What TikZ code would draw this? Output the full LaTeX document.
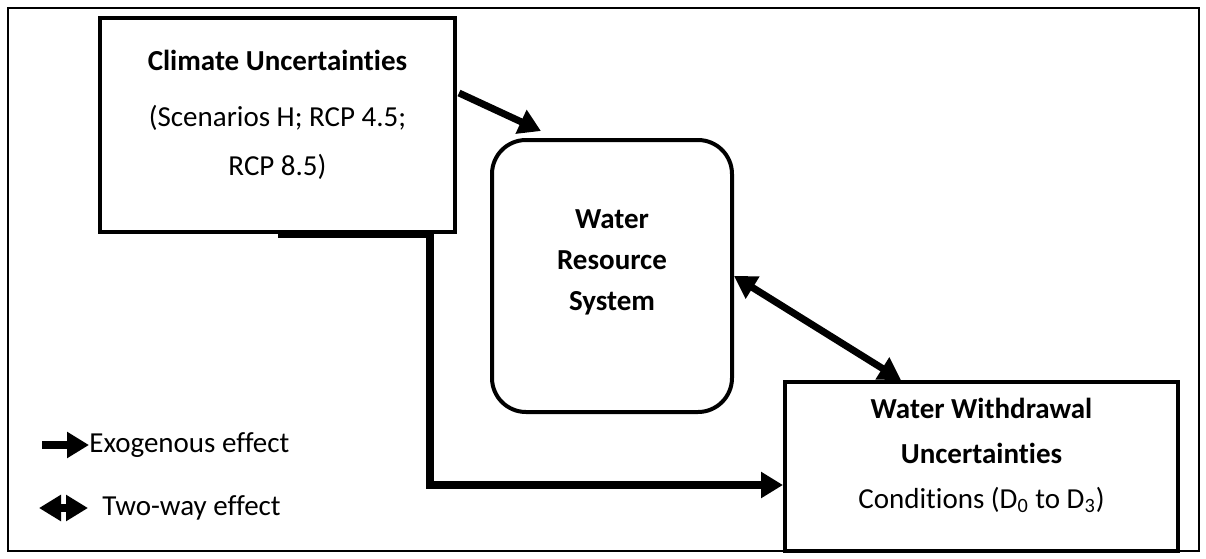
\documentclass[tikz,border=0pt]{standalone}
\usepackage{fontspec}
\setmainfont{Carlito}[Ligatures=NoCommon]
\usetikzlibrary{arrows.meta}
\begin{document}
\begin{tikzpicture}[x=0.5pt,y=-0.5pt,
    box/.style={draw,line width=2pt,align=center,inner sep=0pt,
      font=\fontsize{14.5}{24.5}\selectfont},
    flow/.style={line width=3.5pt,-{Triangle[length=11pt,width=12.5pt]}},
    twoway/.style={line width=3.5pt,{Triangle[length=11pt,width=12.5pt]}-{Triangle[length=11pt,width=12.5pt]}}]
  \useasboundingbox (0,0) rectangle (1206,558);
  \draw[line width=1pt] (8,8) rectangle (1199,551);

  \node[box,minimum width=177.5pt,minimum height=107pt,text depth=12pt] (clim) at (277.5,125)
    {\textbf{Climate Uncertainties}\\[3.5pt] (Scenarios H; RCP 4.5;\\ RCP 8.5)};
  \node[box,rounded corners=17pt,minimum width=120pt,minimum height=136pt,text depth=16pt,
    font=\fontsize{14.5}{20.5}\selectfont\bfseries] (wrs) at (612,276)
    {Water\\ Resource\\ System};
  \node[box,minimum width=196.5pt,minimum height=84.5pt,text depth=13.5pt,
    font=\fontsize{14.5}{22.5}\selectfont] (with) at (981.5,466.5)
    {\textbf{Water Withdrawal}\\ \textbf{Uncertainties}\\ Conditions (D\textsubscript{0} to D\textsubscript{3})};

  \draw[flow] ([shift={(2,77)}]clim.north east) -- ([shift={(51,-7)}]wrs.north west);
  \draw[twoway] (wrs.east) -- ([xshift=59pt]with.north west);
  \coordinate (bend) at (430,485);
  \draw[flow,line width=4pt] (clim.south) -| (bend) -- (bend -| with.west);

  % legend
  \node[anchor=west,inner sep=0pt,font=\fontsize{14.5}{17}\selectfont] (exo) at (89,445) {Exogenous effect};
  \node[anchor=west,inner sep=0pt,font=\fontsize{14.5}{17}\selectfont] (both) at (102,508) {Two-way effect};
  \coordinate (exotail) at (42,445);
  \coordinate (bothtail) at (39,508);
  \draw[flow,line width=4pt] (exotail) -- (exo.west);
  \draw[twoway,line width=4pt] (bothtail) -- ([xshift=-7pt]both.west);
\end{tikzpicture}
\end{document}
